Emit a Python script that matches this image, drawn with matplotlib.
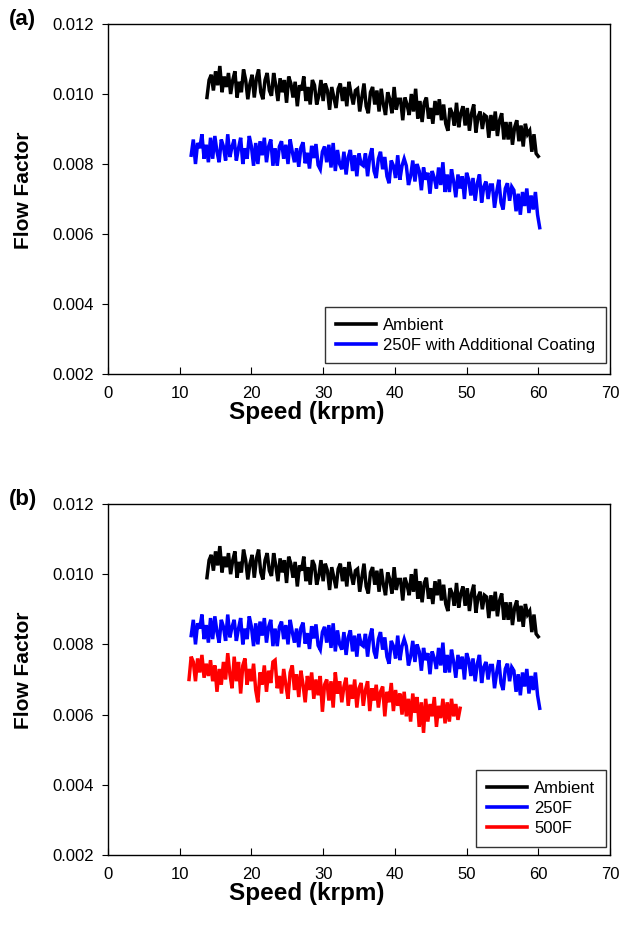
import numpy as np
import matplotlib
matplotlib.use("Agg")
import matplotlib.pyplot as plt

plt.rcParams["font.family"] = ["Liberation Sans", "DejaVu Sans"]

# flow factor values in units of 1e-5, sampled every 0.3 krpm
STEP = 0.3

ambient_start = 13.8
ambient = [
    990, 1040, 1055, 1010, 1065, 1025, 1080, 1005, 1050, 1020,
    1060, 1000, 1040, 1065, 990, 1035, 1005, 1070, 1040, 985,
    1030, 1055, 990, 1045, 1070, 1005, 985, 1040, 1060, 1010,
    995, 1060, 1025, 980, 1045, 1005, 1040, 975, 1050, 1030,
    990, 1035, 965, 1025, 1010, 1050, 980, 1020, 970, 1040,
    1025, 970, 995, 1040, 980, 1030, 1010, 955, 1020, 990,
    960, 1015, 1030, 980, 1020, 965, 1035, 1000, 970, 1010,
    1015, 950, 990, 1030, 965, 945, 1005, 1020, 970, 1010,
    950, 1015, 970, 940, 1005, 985, 945, 1020, 955, 985,
    985, 925, 990, 970, 940, 1000, 950, 1015, 930, 980,
    920, 975, 990, 930, 960, 915, 980, 940, 985, 925,
    970, 915, 895, 960, 945, 910, 975, 905, 945, 965,
    910, 960, 895, 945, 970, 890, 935, 950, 900, 940,
    935, 875, 940, 895, 950, 880, 925, 945, 870, 920,
    870, 920, 855, 905, 925, 865, 910, 850, 915, 885,
    895, 835, 885, 830, 822,
]

f250_start = 11.6
f250 = [
    825, 870, 800, 860, 845, 885, 815, 855, 805, 875,
    815, 880, 835, 805, 870, 850, 810, 885, 820, 850,
    870, 810, 845, 875, 800, 845, 815, 880, 850, 795,
    860, 800, 865, 825, 875, 805, 850, 870, 795, 845,
    795, 850, 865, 815, 855, 800, 870, 835, 805, 845,
    792, 847, 862, 802, 832, 787, 852, 817, 857, 797,
    785, 835, 850, 805, 855, 790, 860, 780, 840, 800,
    785, 835, 770, 820, 840, 780, 825, 765, 830, 800,
    795, 830, 765, 820, 845, 780, 760, 815, 835, 785,
    820, 765, 745, 810, 795, 760, 825, 755, 795, 815,
    795, 740, 765, 810, 750, 800, 780, 725, 790, 755,
    775, 715, 780, 760, 730, 790, 740, 805, 720, 770,
    720, 785, 750, 705, 770, 730, 765, 700, 775, 755,
    710, 760, 695, 745, 770, 690, 735, 750, 700, 740,
    740, 675, 720, 755, 690, 670, 730, 745, 695, 735,
    725, 665, 715, 655, 720, 680, 730, 660, 710, 670,
    720, 655, 618,
]

f500_start = 11.3
f500 = [
    700, 765, 750, 695, 760, 720, 770, 705, 745, 710,
    755, 695, 740, 665, 730, 685, 750, 700, 775, 715,
    675, 765, 695, 750, 660, 740, 760, 685, 730, 695,
    745, 670, 635, 720, 685, 740, 665, 725, 690, 750,
    755, 675, 710, 660, 730, 685, 645, 720, 740, 670,
    715, 650, 725, 685, 635, 710, 670, 720, 645, 700,
    655, 710, 608, 685, 700, 640, 695, 620, 720, 660,
    695, 635, 680, 705, 625, 685, 645, 700, 620, 675,
    690, 625, 670, 695, 610, 675, 640, 685, 620, 665,
    680, 595, 665, 635, 690, 610, 670, 625, 660, 600,
    665, 595, 645, 580, 660, 605, 650, 565, 635, 548,
    645, 580, 630, 595, 650, 565, 625, 590, 645, 575,
    635, 580, 645, 595, 630, 585, 618,
]

x_ticks = [0, 10, 20, 30, 40, 50, 60, 70]
y_ticks = [0.002, 0.004, 0.006, 0.008, 0.010, 0.012]


def series(start, vals):
    v = np.array(vals) * 1e-5
    return start + STEP * np.arange(len(v)), v


fig = plt.figure(figsize=(6.22, 9.38), dpi=100)
ax_a = fig.add_axes([0.1736, 0.6013, 0.8071, 0.3731])
ax_b = fig.add_axes([0.1736, 0.0885, 0.8071, 0.3742])

panels = [
    (ax_a, "(a)", [("Ambient", ambient_start, ambient, "black"),
                   ("250F with Additional Coating", f250_start, f250, "#0000ff")],
     (0.992, 0.03)),
    (ax_b, "(b)", [("Ambient", ambient_start, ambient, "black"),
                   ("250F", f250_start, f250, "#0000ff"),
                   ("500F", f500_start, f500, "#ff0000")],
     (0.992, 0.023)),
]

for ax, tag, lines, lpos in panels:
    for name, start, vals, col in lines:
        x, y = series(start, vals)
        ax.plot(x, y, color=col, lw=2.5, label=name, solid_joinstyle="miter")
    ax.set_xlim(0, 70)
    ax.set_ylim(0.002, 0.012)
    ax.set_xticks(x_ticks)
    ax.set_yticks(y_ticks)
    ax.set_yticklabels([f"{t:.3f}" for t in y_ticks])
    ax.tick_params(axis="x", direction="in", length=5, labelsize=12, pad=9)
    ax.tick_params(axis="y", direction="out", length=4, labelsize=12, pad=6)
    for s in ax.spines.values():
        s.set_linewidth(1)
    # the original labels sit a bit off the axes centre
    ax.set_xlabel("Speed (krpm)", fontsize=17.5, fontweight="bold")
    ax.xaxis.set_label_coords(0.396, -0.078)
    ax.set_ylabel("Flow Factor", fontsize=15, fontweight="bold")
    ax.yaxis.set_label_coords(-0.15, 0.526)
    ax.text(-0.197, 1.014, tag, transform=ax.transAxes, fontsize=16,
            fontweight="bold", ha="left", va="center")
    leg = ax.legend(loc="lower right", bbox_to_anchor=lpos, fontsize=12,
                    frameon=True, fancybox=False, edgecolor="black",
                    handlelength=2.4, handletextpad=0.45, borderpad=0.65,
                    labelspacing=0.3, borderaxespad=0)
    leg.get_frame().set_linewidth(1)
    for h in leg.get_lines():
        h.set_linewidth(2.6)

fig.savefig("out.png", dpi=100)
